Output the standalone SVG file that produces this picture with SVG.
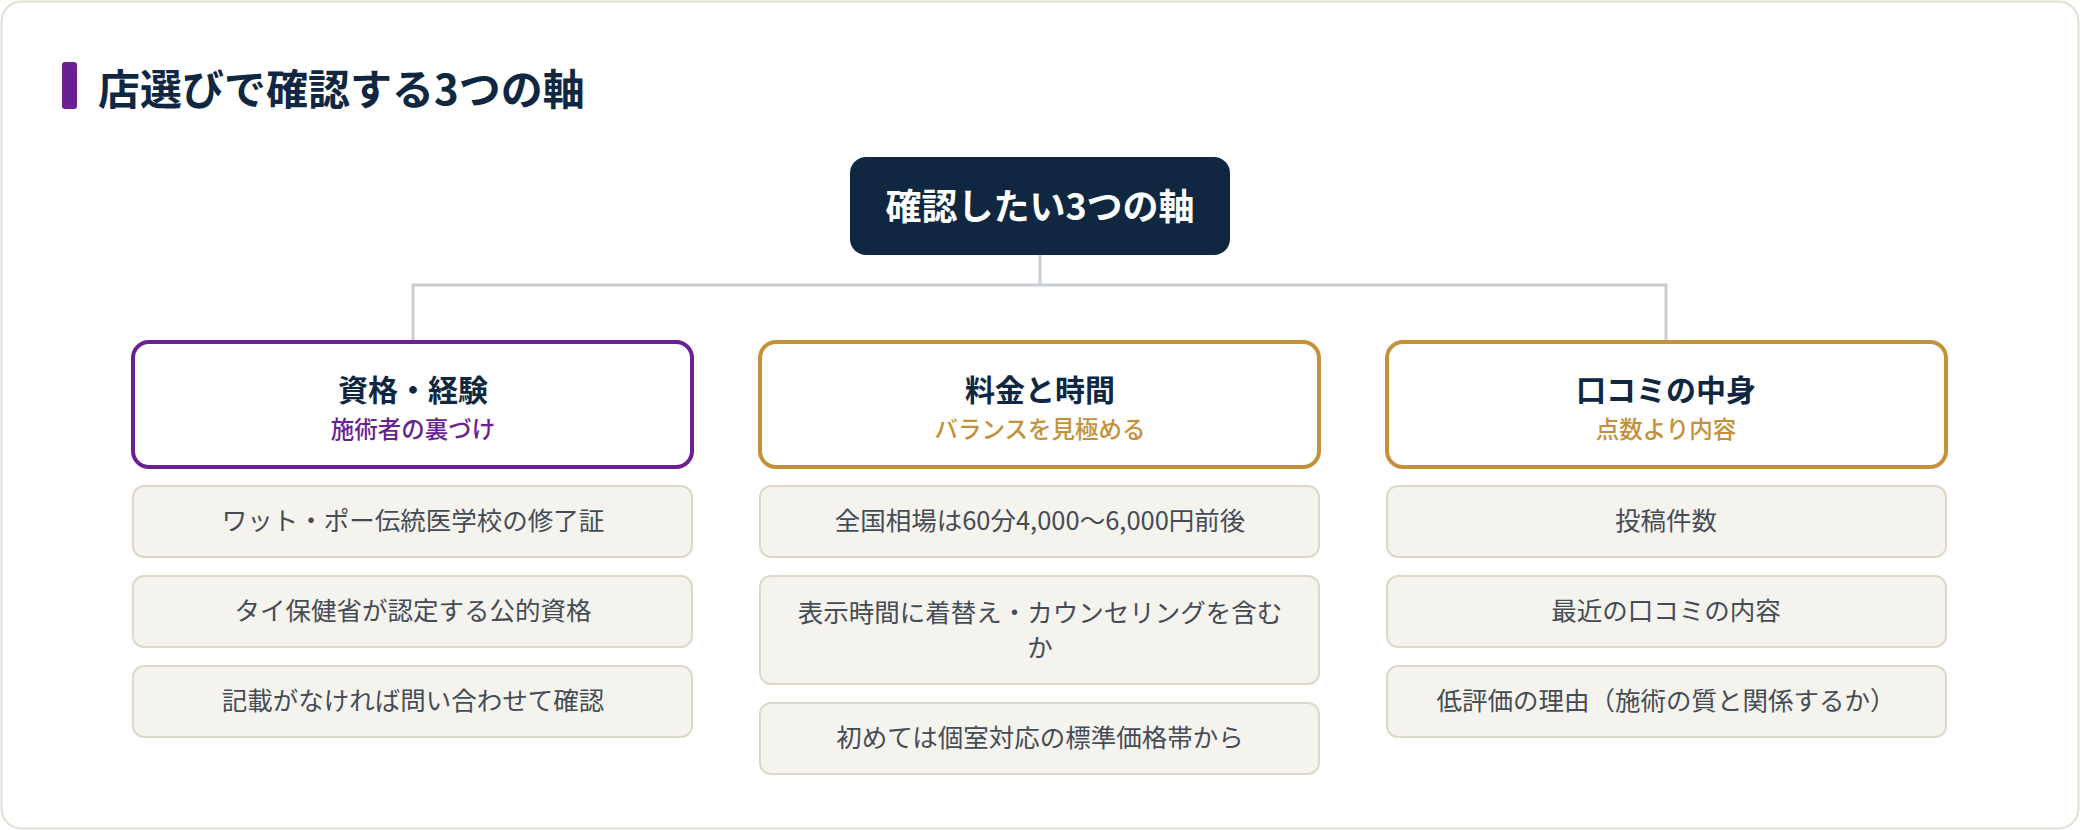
<svg xmlns="http://www.w3.org/2000/svg" width="2080" height="830" viewBox="0 0 2080 830">
<style>
text{font-family:"Noto Sans CJK JP","Noto Sans",sans-serif;text-anchor:middle}
.cat{fill:#fff;stroke-width:4}
.ct{font-size:30px;font-weight:700;fill:#0f2740}
.item rect{fill:#f5f3ee;stroke:#ddd8c8;stroke-width:2}
.item text{font-size:25.5px;fill:#454c55}
.conn{stroke:#c8ccd4;stroke-width:3;fill:none}
</style>
<rect x="1.5" y="1.5" width="2077" height="827" rx="20" fill="#fff" stroke="#e2dfd2" stroke-width="2"/>
<rect x="62" y="62" width="15" height="47" rx="3" fill="#6b1f94"/>
<text x="98" y="105" style="text-anchor:start;font-size:42px;font-weight:700;fill:#0f2740">店選びで確認する3つの軸</text>
<g id="connectors" class="conn">
<path d="M1040 255V285M413 342V285H1666V342"/>
</g>
<g id="root"><rect x="850" y="157" width="380" height="98" rx="16" fill="#0f2740"/>
<text x="1040" y="220" style="font-size:36px;font-weight:700;fill:#fff">確認したい3つの軸</text></g>
<g id="cat1"><rect class="cat" x="133" y="342" width="559" height="125" rx="16" stroke="#6b1f94"/>
<text class="ct" x="413" y="401">資格・経験</text><text x="413" y="438" style="font-size:23.5px;fill:#6b1f94;font-weight:500">施術者の裏づけ</text></g>
<g id="cat2"><rect class="cat" x="760" y="342" width="559" height="125" rx="16" stroke="#c4913a"/>
<text class="ct" x="1040" y="401">料金と時間</text><text x="1040" y="438" style="font-size:23.5px;fill:#c4913a;font-weight:500">バランスを見極める</text></g>
<g id="cat3"><rect class="cat" x="1387" y="342" width="559" height="125" rx="16" stroke="#c4913a"/>
<text class="ct" x="1666" y="401">口コミの中身</text><text x="1666" y="438" style="font-size:23.5px;fill:#c4913a;font-weight:500">点数より内容</text></g>
<g id="i11" class="item"><rect x="133" y="486" width="559" height="71" rx="11"/><text x="413" y="530">ワット・ポー伝統医学校の修了証</text></g>
<g id="i12" class="item"><rect x="133" y="576" width="559" height="71" rx="11"/><text x="413" y="620">タイ保健省が認定する公的資格</text></g>
<g id="i13" class="item"><rect x="133" y="666" width="559" height="71" rx="11"/><text x="413" y="710">記載がなければ問い合わせて確認</text></g>
<g id="i21" class="item"><rect x="760" y="486" width="559" height="71" rx="11"/><text x="1040" y="530">全国相場は60分4,000〜6,000円前後</text></g>
<g id="i22" class="item"><rect x="760" y="576" width="559" height="108" rx="11"/><text x="1040" y="622">表示時間に着替え・カウンセリングを含む</text><text x="1040" y="657">か</text></g>
<g id="i23" class="item"><rect x="760" y="703" width="559" height="71" rx="11"/><text x="1040" y="747">初めては個室対応の標準価格帯から</text></g>
<g id="i31" class="item"><rect x="1387" y="486" width="559" height="71" rx="11"/><text x="1666" y="530">投稿件数</text></g>
<g id="i32" class="item"><rect x="1387" y="576" width="559" height="71" rx="11"/><text x="1666" y="620">最近の口コミの内容</text></g>
<g id="i33" class="item"><rect x="1387" y="666" width="559" height="71" rx="11"/><text x="1666" y="710">低評価の理由（施術の質と関係するか）</text></g>
</svg>
